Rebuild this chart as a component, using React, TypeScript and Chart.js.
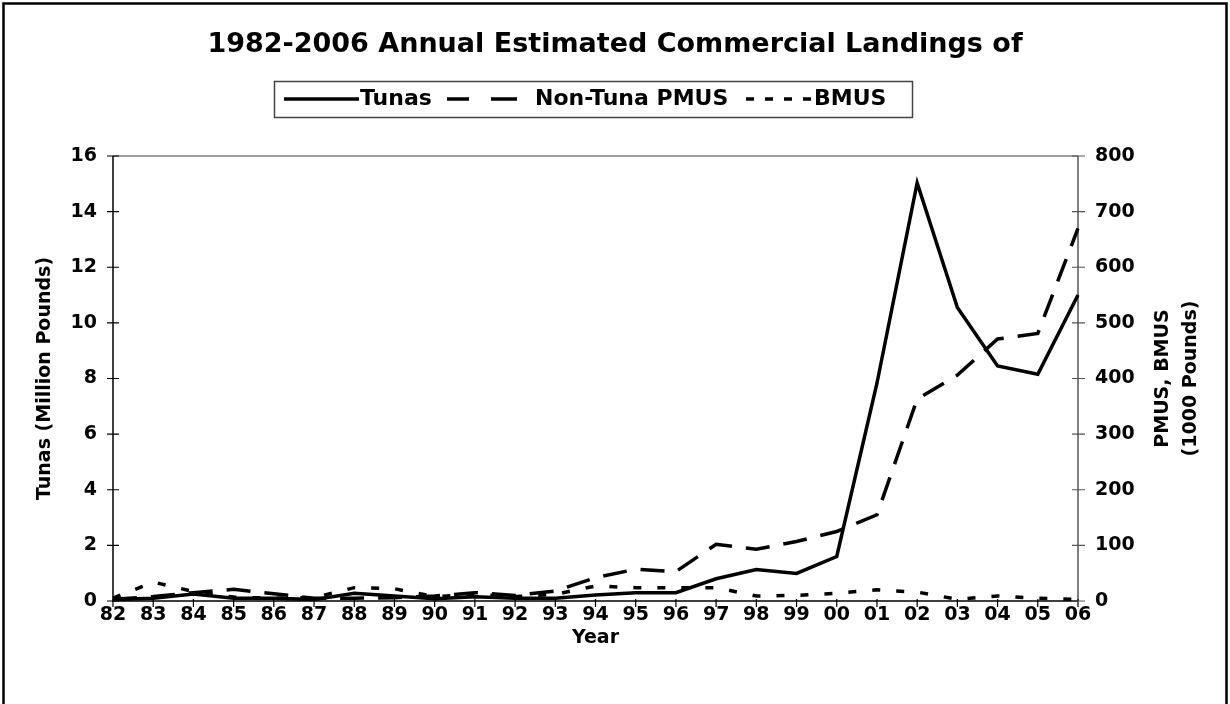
import React, { useEffect, useRef } from "react";
import { Chart, registerables } from "chart.js";

Chart.register(...registerables);

const years = ["82", "83", "84", "85", "86", "87", "88", "89", "90", "91", "92", "93", "94", "95", "96", "97", "98", "99", "00", "01", "02", "03", "04", "05", "06"];
const tunas = [0.05, 0.1, 0.25, 0.1, 0.1, 0.05, 0.28, 0.18, 0.08, 0.15, 0.1, 0.1, 0.22, 0.3, 0.3, 0.8, 1.13, 0.99, 1.6, 7.83, 15.03, 10.55, 8.45, 8.15, 11.0];
const pmus = [3, 8, 15, 21, 13, 5, 5, 6, 9, 15, 10, 18, 42, 57, 53, 102, 93, 107, 125, 155, 363, 406, 471, 481, 670];
const bmus = [5, 34, 17, 7, 5, 6, 24, 22, 8, 12, 8, 12, 27, 24, 24, 24, 9, 10, 14, 20, 16, 3, 9, 5, 3];

const leftMax = 16;
const leftStep = 2;
const rightMax = 800;
const rightStep = 100;

const titleText = "1982-2006 Annual Estimated Commercial Landings of";
const leftTitle = "Tunas (Million Pounds)";
const rightTitle = ["PMUS, BMUS", "(1000 Pounds)"];
const xTitle = "Year";
const legendNames = ["Tunas", "Non-Tuna PMUS", "BMUS"];

const FAMILY = '"DejaVu Sans", Verdana, sans-serif';
const tickFont = { family: FAMILY, size: 19, weight: "bold" as const };

const decor = {
  id: "decor",
  beforeDraw(chart: any) {
    const ctx = chart.ctx;
    ctx.save();
    ctx.fillStyle = "#fff";
    ctx.fillRect(0, 0, chart.width, chart.height);
    ctx.restore();
  },
  beforeDatasetsDraw(chart: any) {
    const { ctx, chartArea, scales } = chart;
    const { left, right, top, bottom } = chartArea;
    ctx.save();
    ctx.strokeStyle = "#808080";
    ctx.lineWidth = 1.5;
    ctx.beginPath();
    ctx.moveTo(left, top);
    ctx.lineTo(right, top);
    ctx.stroke();
    ctx.strokeStyle = "#000";
    ctx.lineWidth = 1.5;
    ctx.beginPath();
    ctx.moveTo(left, top);
    ctx.lineTo(left, bottom);
    ctx.lineTo(right, bottom);
    ctx.stroke();
    ctx.strokeStyle = "#555";
    ctx.beginPath();
    ctx.moveTo(right, top);
    ctx.lineTo(right, bottom);
    ctx.stroke();
    ctx.strokeStyle = "#000";
    ctx.lineWidth = 1.2;
    ctx.beginPath();
    scales.y.ticks.forEach((_: any, i: number) => {
      const y = scales.y.getPixelForTick(i);
      ctx.moveTo(left - 6, y);
      ctx.lineTo(left + 6, y);
    });
    scales.x.ticks.forEach((_: any, i: number) => {
      const x = scales.x.getPixelForTick(i);
      ctx.moveTo(x, bottom - 2);
      ctx.lineTo(x, bottom + 6);
    });
    ctx.stroke();
    ctx.strokeStyle = "#555";
    ctx.beginPath();
    scales.y1.ticks.forEach((_: any, i: number) => {
      const y = scales.y1.getPixelForTick(i);
      ctx.moveTo(right - 6, y);
      ctx.lineTo(right + 7, y);
    });
    ctx.stroke();
    ctx.restore();
  },
  afterDraw(chart: any) {
    const { ctx, chartArea } = chart;
    const { left, right, top, bottom } = chartArea;
    const midY = (top + bottom) / 2;
    ctx.save();
    ctx.fillStyle = "#000";
    ctx.textBaseline = "middle";
    ctx.textAlign = "center";
    ctx.font = `bold 27px ${FAMILY}`;
    ctx.fillText(titleText, 615, 45);
    ctx.font = `bold 19px ${FAMILY}`;
    ctx.fillText(xTitle, (left + right) / 2, 638);
    ctx.save();
    ctx.translate(45, midY);
    ctx.rotate(-Math.PI / 2);
    ctx.fillText(leftTitle, 0, 0);
    ctx.restore();
    ctx.save();
    ctx.translate(1163, midY);
    ctx.rotate(-Math.PI / 2);
    ctx.fillText(rightTitle[0], 0, 0);
    ctx.restore();
    ctx.save();
    ctx.translate(1191, midY);
    ctx.rotate(-Math.PI / 2);
    ctx.fillText(rightTitle[1], 0, 0);
    ctx.restore();

    const ly = 99;
    ctx.strokeStyle = "#444";
    ctx.lineWidth = 1.5;
    ctx.strokeRect(274.5, 81.5, 638, 36);
    ctx.strokeStyle = "#000";
    ctx.lineWidth = 3.5;
    ctx.beginPath();
    ctx.moveTo(284, ly);
    ctx.lineTo(359, ly);
    ctx.stroke();
    ctx.beginPath();
    ctx.moveTo(447, ly);
    ctx.lineTo(469, ly);
    ctx.moveTo(491, ly);
    ctx.lineTo(517, ly);
    ctx.stroke();
    ctx.beginPath();
    [746, 765, 784, 803].forEach((x) => {
      ctx.moveTo(x, ly);
      ctx.lineTo(x + 8, ly);
    });
    ctx.stroke();
    ctx.font = `bold 22px ${FAMILY}`;
    ctx.textAlign = "left";
    ctx.fillText(legendNames[0], 360, ly);
    ctx.fillText(legendNames[1], 535, ly);
    ctx.fillText(legendNames[2], 814, ly);

    ctx.strokeStyle = "#000";
    ctx.lineWidth = 2.5;
    ctx.strokeRect(3.5, 3.5, 1223, 720);
    ctx.restore();
  },
};

export default function App() {
  const ref = useRef<HTMLCanvasElement | null>(null);
  useEffect(() => {
    document.body.style.margin = "0";
    const canvas = ref.current;
    if (!canvas) return;
    const chart = new Chart(canvas, {
      type: "line",
      data: {
        labels: years,
        datasets: [
          { label: legendNames[0], data: tunas, yAxisID: "y", borderColor: "#000", borderWidth: 3.5, pointRadius: 0, tension: 0, fill: false },
          { label: legendNames[1], data: pmus, yAxisID: "y1", borderColor: "#000", borderWidth: 3.5, borderDash: [24, 14], pointRadius: 0, tension: 0, fill: false },
          { label: legendNames[2], data: bmus, yAxisID: "y1", borderColor: "#000", borderWidth: 3.5, borderDash: [8, 16], pointRadius: 0, tension: 0, fill: false },
        ],
      },
      options: {
        responsive: false,
        animation: false,
        devicePixelRatio: 1,
        layout: { padding: { top: 156, left: 0, right: 0, bottom: 0 } },
        plugins: { legend: { display: false }, title: { display: false }, tooltip: { enabled: false } },
        scales: {
          x: {
            type: "category",
            offset: false,
            grid: { display: false, drawTicks: false },
            border: { display: false },
            ticks: { color: "#000", font: tickFont, padding: 3, maxRotation: 0, autoSkip: false },
            afterFit: (s: any) => { s.height = 103; },
          },
          y: {
            position: "left",
            min: 0,
            max: leftMax,
            grid: { display: false, drawTicks: false },
            border: { display: false },
            ticks: { stepSize: leftStep, color: "#000", font: tickFont, padding: 16 },
            afterFit: (s: any) => { s.width = 113; },
          },
          y1: {
            position: "right",
            min: 0,
            max: rightMax,
            grid: { display: false, drawTicks: false },
            border: { display: false },
            ticks: { stepSize: rightStep, color: "#000", font: tickFont, padding: 17 },
            afterFit: (s: any) => { s.width = 152; },
          },
        },
      } as any,
      plugins: [decor],
    });
    return () => chart.destroy();
  }, []);
  return (
    <div style={{ width: 1230, height: 704 }}>
      <canvas ref={ref} width={1230} height={704} style={{ display: "block" }} />
    </div>
  );
}
